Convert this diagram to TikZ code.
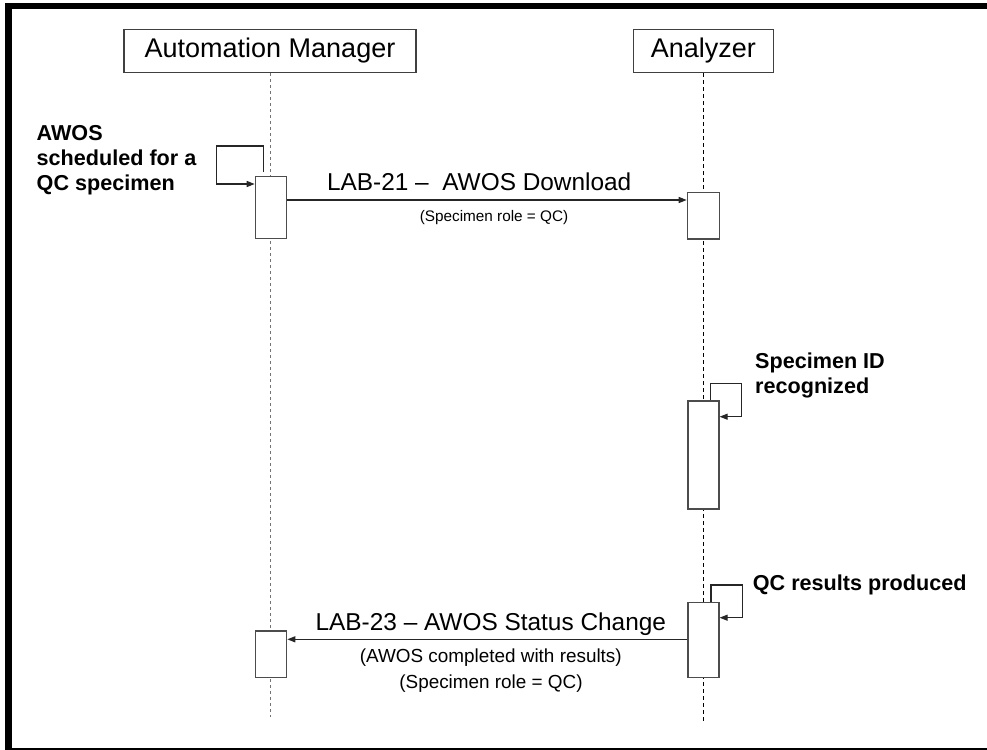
\documentclass[tikz,border=0pt]{standalone}
\usepackage{fontspec}
\setmainfont{Liberation Sans}
\usetikzlibrary{arrows.meta}
\begin{document}
\begin{tikzpicture}[x=1pt,y=-1pt,
  hdr/.style={draw=black!75, line width=1.2pt, inner sep=0pt, font=\fontsize{27}{32}\selectfont},
  act/.style={draw=black!70, fill=white, line width=1.2pt, inner sep=0pt},
  lifegray/.style={draw=black!55, line width=1.3pt, dash pattern=on 3pt off 3pt},
  lifeblack/.style={draw=black, line width=1.1pt, dash pattern=on 4pt off 3pt},
  msg/.style={draw=black!85, line width=1.2pt, -{Triangle[length=8pt,width=6pt]}},
  lbig/.style={anchor=base, inner sep=0pt, font=\fontsize{24.4}{29}\selectfont},
  lsmall/.style={anchor=base, inner sep=0pt, font=\fontsize{15.3}{18}\selectfont},
  lmid/.style={anchor=base, inner sep=0pt, font=\fontsize{18.9}{22}\selectfont},
  note/.style={anchor=base west, inner sep=0pt, align=left, font=\fontsize{21.6}{25}\selectfont\bfseries}]
\useasboundingbox (0,0) rectangle (987,749);
\clip (0,0) rectangle (987,749);
% frame (its right side lies outside the picture)
\draw[line width=6.5pt] (1100,6) -- (8.5,6) -- (8.5,751) -- (1100,751);
% headers
\node[hdr, minimum width=292, minimum height=43.5] (amh) at (270,51) {Automation Manager};
\node[hdr, minimum width=140, minimum height=43.5] (anh) at (703.3,51) {Analyzer};
% lifelines
\coordinate (amend) at (270.5,717);
\coordinate (anend) at (703.3,724);
\draw[lifegray] (amh.south -| amend) -- (amend);
\draw[lifeblack] (anh.south) -- (anend);
% activation boxes
\node[act, minimum width=31.4, minimum height=61.6] (am1) at (271,207.5) {};
\node[act, minimum width=32, minimum height=46.7] (an1) at (703.3,215.7) {};
\node[act, minimum width=31, minimum height=108] (an2) at (703.5,455) {};
\node[act, minimum width=31, minimum height=75] (an3) at (703.5,639.8) {};
\node[act, minimum width=31.4, minimum height=46.3] (am2) at (271,654.2) {};
% self loops
\coordinate (l1s) at (263.3,172);
\draw[msg] (l1s) -- (263.3,146) -- (216.7,146) -- (216.7,184) -- (am1.west |- 0,184);
\draw[msg] (an2.north -| 710.7,0) -- (710.7,383.3) -- (741.7,383.3) -- (741.7,416.7) -- (an2.east |- 0,416.7);
\draw[msg] (an3.north -| 711,0) -- (711,585) -- (742.3,585) -- (742.3,617.7) -- (an3.east |- 0,617.7);
% messages
\draw[msg] (am1.east |- 0,200) -- (an1.west |- 0,200);
\draw[msg] (an3.west |- 0,639.3) -- (am2.east |- 0,639.3);
% message labels
\node[lbig] (m1) at (479.2,190) {LAB-21 –\ \ AWOS Download};
\node[lsmall] (m1b) at (494,221.7) {(Specimen role = QC)};
\node[lbig] (m2) at (490.8,630) {LAB-23 – AWOS Status Change};
\node[lmid] (m2b) at (490.8,662) {(AWOS completed with results)};
\node[lmid] (m2c) at (491,688) {(Specimen role = QC)};
% notes (base anchor = baseline of last line)
\node[note] (n1) at (36.5,190) {AWOS\\scheduled for a\\QC specimen};
\node[note] (n2) at (755,393) {Specimen ID\\recognized};
\node[note] (n3) at (752.7,590) {QC results produced};
\end{tikzpicture}
\end{document}
